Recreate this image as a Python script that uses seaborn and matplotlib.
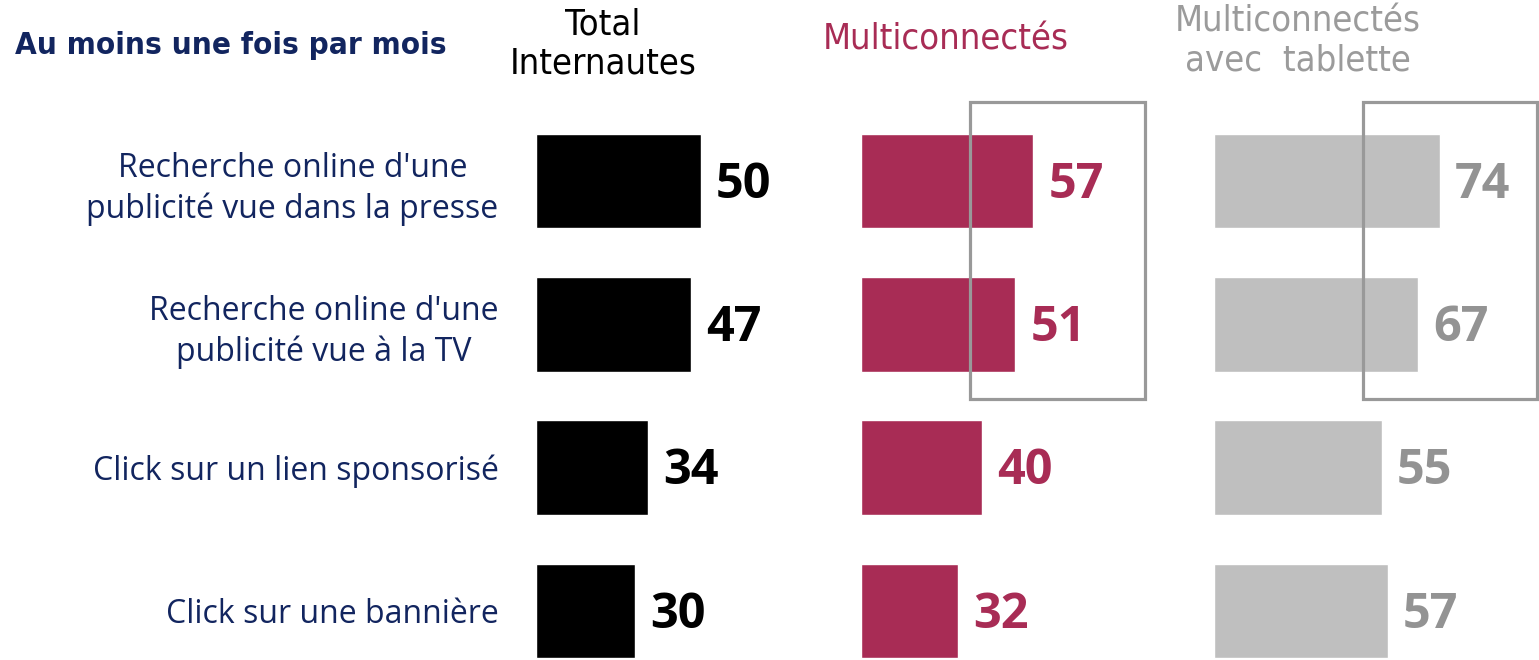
import matplotlib
matplotlib.use('Agg')
import matplotlib.pyplot as plt
from matplotlib.patches import Rectangle
import seaborn as sns
import pandas as pd

categories = ["Recherche online d'une\npublicité vue dans la presse",
              "Recherche online d'une\npublicité vue à la TV",
              "Click sur un lien sponsorisé",
              "Click sur une bannière"]
total_internautes = [50, 47, 34, 30]
multiconnectes = [57, 51, 40, 32]
multi_tablette = [74, 67, 55, 57]

headers = ['Total\nInternautes', 'Multiconnectés', 'Multiconnectés\navec  tablette']
title = 'Au moins une fois par mois'

sns.set_style('white')
plt.rcParams['font.family'] = ['Open Sans', 'DejaVu Sans']

W, H = 1539, 660
fig = plt.figure(figsize=(W / 100, H / 100), dpi=100)

navy = '#12255F'
crimson = '#A82C55'
grey_bar = '#BFBFBF'
grey_txt = '#939393'
box_col = '#999999'
narrow = ['DejaVu Sans']

panels = [
    (total_internautes, 'black', 'black', 536, 300, 3.29),
    (multiconnectes, crimson, crimson, 861, 300, 3.02),
    (multi_tablette, grey_bar, grey_txt, 1214, 325, 3.05),
]

for n, (vals, col, tcol, left, width, scale) in enumerate(panels):
    ax = fig.add_axes([left / W, 0, width / W, 1])
    df = pd.DataFrame({'cat': categories, 'val': vals})
    sns.barplot(data=df, x='val', y='cat', order=categories, color=col,
                width=0.66, orient='h', saturation=1, ax=ax)
    ax.set_xlim(0, width / scale)
    ax.set_ylim((H - 181) / 143.3, -181 / 143.3)
    for i, v in enumerate(vals):
        ax.annotate(str(v), xy=(v, i), xytext=(11, -3), textcoords='offset points',
                    ha='left', va='center', fontsize=35, fontweight='bold', color=tcol)
    sns.despine(ax=ax, left=True, bottom=True)
    ax.set_xlabel('')
    ax.set_ylabel('')
    ax.set_xticks([])
    ax.tick_params(axis='y', length=0)
    if n == 0:
        ax.set_yticks(range(len(categories)))
        ax.set_yticklabels(categories, fontsize=23, color=navy, multialignment='center',
                           linespacing=1.3)
        ax.tick_params(axis='y', pad=27)
    else:
        ax.set_yticks([])
    ax.patch.set_alpha(0)

# headers
hk = dict(ha='center', va='center', fontsize=26, family=narrow, fontstretch='condensed')
fig.text(603 / W, 1 - 44 / H, headers[0], color='black', linespacing=1.15, **hk)
fig.text(946 / W, 1 - 40 / H, headers[1], color=crimson, **hk)
fig.text(1298 / W, 1 - 41 / H, headers[2], color='#9B9B9B', linespacing=1.15, **hk)
fig.text(15 / W, 1 - 45 / H, title, ha='left', va='center', fontsize=22.5,
         fontweight='bold', color=navy, family=narrow, fontstretch='condensed')

# highlight boxes
for x0, x1 in [(970, 1145), (1363, 1537)]:
    fig.add_artist(Rectangle((x0 / W, 1 - 399 / H), (x1 - x0) / W, 297 / H,
                             transform=fig.transFigure, fill=False,
                             edgecolor=box_col, linewidth=2.3, zorder=5))

fig.savefig('out.png', dpi=100)
